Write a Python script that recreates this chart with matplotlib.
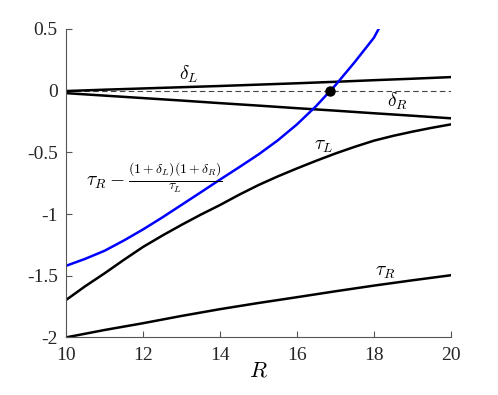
import matplotlib
matplotlib.use('Agg')
import matplotlib.pyplot as plt

plt.rcParams['font.family'] = 'Liberation Serif'
plt.rcParams['mathtext.fontset'] = 'cm'
plt.rcParams['axes.unicode_minus'] = False

# values
R = [10, 11, 12, 13, 14, 15, 16, 17, 18, 19, 20]
delta_L = [-0.003, 0.008, 0.018, 0.028, 0.038, 0.049, 0.060, 0.072, 0.085, 0.097, 0.110]
delta_R = [-0.020, -0.040, -0.060, -0.080, -0.101, -0.121, -0.142, -0.162, -0.183, -0.203, -0.224]
tau_R = [-2.000, -1.940, -1.885, -1.826, -1.771, -1.721, -1.674, -1.626, -1.580, -1.537, -1.496]

R_half = [10, 10.5, 11, 11.5, 12, 12.5, 13, 13.5, 14, 14.5, 15,
          15.5, 16, 16.5, 17, 17.5, 18, 18.5, 19, 19.5, 20]
tau_L = [-1.697, -1.585, -1.481, -1.372, -1.267, -1.175, -1.088, -1.005, -0.927, -0.843, -0.765,
         -0.695, -0.630, -0.568, -0.509, -0.455, -0.405, -0.366, -0.332, -0.301, -0.273]

R_blue = [10, 10.5, 11, 11.5, 12, 12.5, 13, 13.5, 14, 14.5, 15, 15.5, 16, 16.5, 17, 17.5, 18, 18.12]
blue = [-1.420, -1.363, -1.298, -1.215, -1.125, -1.028, -0.926, -0.824, -0.721,
        -0.620, -0.517, -0.403, -0.273, -0.124, 0.045, 0.232, 0.430, 0.500]

R_star = 16.86
y_star = 0.0

x_ticks = [10, 12, 14, 16, 18, 20]
y_ticks = [-2, -1.5, -1, -0.5, 0, 0.5]
y_ticklabels = ['-2', '-1.5', '-1', '-0.5', '0', '0.5']

fig = plt.figure(figsize=(4.98, 3.95), dpi=100)
ax = fig.add_axes([0.1325, 0.1458, 0.7731, 0.7808])

ax.axhline(0, color='#444444', lw=0.8, ls=(0, (5, 3)), zorder=1)
ax.plot(R, delta_L, color='k', lw=1.8)
ax.plot(R, delta_R, color='k', lw=1.8)
ax.plot(R_half, tau_L, color='k', lw=1.8)
ax.plot(R, tau_R, color='k', lw=1.8)
ax.plot(R_blue, blue, color='#0000ff', lw=1.8)
ax.plot([R_star], [y_star], 'o', color='k', ms=6.5, zorder=5)

ax.text(13.2, 0.135, r'$\delta_L$', fontsize=14, ha='center', va='center')
ax.text(18.6, -0.09, r'$\delta_R$', fontsize=14, ha='center', va='center')
ax.text(16.7, -0.45, r'$\tau_L$', fontsize=14, ha='center', va='center')
ax.text(18.3, -1.47, r'$\tau_R$', fontsize=14, ha='center', va='center')
ax.text(12.3, -0.71, r'$\tau_R - \frac{(1+\delta_L)(1+\delta_R)}{\tau_L}$',
        fontsize=14, ha='center', va='center')

ax.set_xlim(10, 20)
ax.set_ylim(-2, 0.5)
ax.set_xticks(x_ticks)
ax.set_yticks(y_ticks)
ax.set_yticklabels(y_ticklabels)
ax.set_xlabel(r'$R$', fontsize=16, labelpad=-1)

for side in ['top', 'right']:
    ax.spines[side].set_visible(False)
for side in ['left', 'bottom']:
    ax.spines[side].set_color('#555555')
    ax.spines[side].set_linewidth(0.8)
ax.tick_params(direction='in', length=4, width=0.8, color='#555555',
               labelsize=14, labelcolor='#262626')
ax.tick_params(axis='x', pad=7)
ax.tick_params(axis='y', pad=6)

plt.savefig('out.png', dpi=100)
